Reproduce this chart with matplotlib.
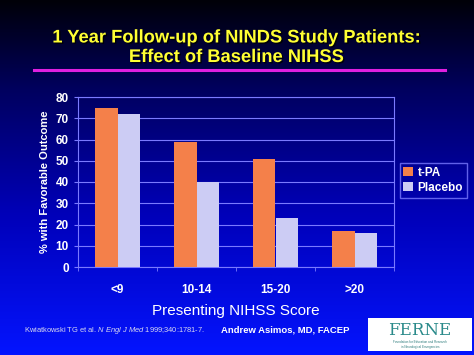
import numpy as np
import matplotlib
matplotlib.use("Agg")
import matplotlib.pyplot as plt
import matplotlib.patheffects as pe
from matplotlib.colors import LinearSegmentedColormap

# data
categories = ["<9", "10-14", "15-20", ">20"]
tpa = [75, 59, 51, 17]
placebo = [72, 40, 23, 16]
series_names = ["t-PA", "Placebo"]
yticks = [0, 10, 20, 30, 40, 50, 60, 70, 80]

plt.rcParams["font.family"] = ["Liberation Sans", "DejaVu Sans"]
plt.rcParams["mathtext.fontset"] = "custom"
plt.rcParams["mathtext.rm"] = "Liberation Sans"
plt.rcParams["mathtext.it"] = "Liberation Sans:italic"

fig = plt.figure(figsize=(4.74, 3.55), dpi=100)

# background gradient: near black at top, bright blue at bottom
bg = fig.add_axes([0, 0, 1, 1], zorder=-10)
cmap = LinearSegmentedColormap.from_list(
    "slide", [(0.0, "#000008"), (0.25, "#00005e"), (0.6, "#0000b8"), (1.0, "#0414ff")]
)
grad = np.linspace(0, 1, 256).reshape(-1, 1)
bg.imshow(grad, aspect="auto", cmap=cmap, extent=[0, 1, 0, 1], origin="upper")
bg.set_axis_off()

# title
shadow = [pe.withSimplePatchShadow(offset=(1.0, -1.0), shadow_rgbFace="black", alpha=0.8)]
fig.text(0.5, 0.893, "1 Year Follow-up of NINDS Study Patients:", ha="center", va="center",
         color="#ffff33", fontsize=13.2, fontweight="bold", path_effects=shadow)
fig.text(0.5, 0.838, "Effect of Baseline NIHSS", ha="center", va="center",
         color="#ffff33", fontsize=13.2, fontweight="bold", path_effects=shadow)
bg.plot([34 / 474, 445 / 474], [1 - 70 / 355, 1 - 70 / 355], color="#e020e0", lw=2.2,
        transform=fig.transFigure)

# chart area
ax = fig.add_axes([78 / 474, 1 - 267 / 355, 316 / 474, 170 / 355])
ax.patch.set_alpha(0)
x = np.arange(len(categories))
w = 0.28
ax.bar(x - w / 2, tpa, w, color="#f4804a", label=series_names[0], zorder=3)
ax.bar(x + w / 2, placebo, w, color="#ccccf4", label=series_names[1], zorder=3)

ax.set_xlim(-0.5, len(categories) - 0.5)
ax.set_ylim(0, 80)
ax.set_yticks(yticks)
ax.set_xticks(x)
ax.set_xticklabels(categories)
ax.set_xticks(np.arange(len(categories) + 1) - 0.5, minor=True)
ax.yaxis.grid(True, color="#7a7aff", lw=0.8, zorder=0)
for s in ["left", "top", "right", "bottom"]:
    ax.spines[s].set_color("#7a7aff")
    ax.spines[s].set_linewidth(0.8)
ax.tick_params(axis="x", which="major", length=0, pad=12, labelcolor="white", labelsize=8.5)
ax.tick_params(axis="x", which="minor", length=3, color="#7a7aff", direction="out")
ax.tick_params(axis="y", length=3, color="#7a7aff", labelcolor="white", labelsize=8.5)
for lab in ax.get_xticklabels() + ax.get_yticklabels():
    lab.set_fontweight("bold")

ax.set_ylabel("% with Favorable Outcome", color="white", fontsize=8, fontweight="bold",
              labelpad=4)
ax.set_xlabel("Presenting NIHSS Score", color="white", fontsize=11, labelpad=6)

leg = ax.legend(loc="center left", bbox_to_anchor=(1.0, 0.51), frameon=True,
                fancybox=False, handlelength=0.8, handleheight=0.8, handletextpad=0.4,
                borderpad=0.3, labelspacing=0.3, prop={"weight": "bold", "size": 8.5})
leg.get_frame().set_facecolor("none")
leg.get_frame().set_edgecolor("#7a7aff")
for t in leg.get_texts():
    t.set_color("white")

# footer
fy = 1 - 330 / 355
fig.text(24 / 474, fy, r"Kwiatkowski TG et al. $\it{N\ Engl\ J\ Med}$ 1999;340:1781-7.",
         color="#d8d8f0", fontsize=5.4, va="center")
fig.text(221 / 474, fy, "Andrew Asimos, MD, FACEP", color="white", fontsize=6.8,
         fontweight="bold", va="center")

# logo box
logo = fig.add_axes([368 / 474, 1 - 351 / 355, 104 / 474, 33 / 355])
logo.set_facecolor("white")
logo.set_xticks([])
logo.set_yticks([])
for s in logo.spines.values():
    s.set_visible(False)
logo.text(0.5, 0.62, "FERNE", ha="center", va="center", color="#2a8a8a", fontsize=12,
          family="DejaVu Serif", transform=logo.transAxes)
logo.text(0.5, 0.2, "Foundation for Education and Research\nin Neurological Emergencies",
          ha="center", va="center", color="#2a7a7a", fontsize=2.2, transform=logo.transAxes)

fig.savefig("out.png", dpi=100)
